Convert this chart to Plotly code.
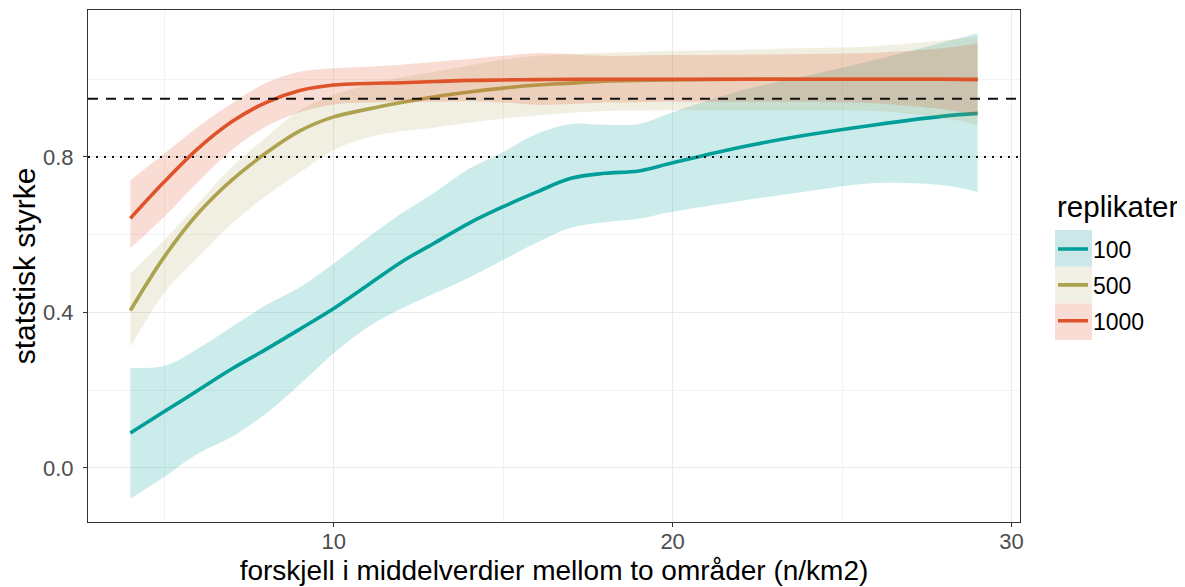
import plotly.graph_objects as go

# ---- data ----
x_vals = [4, 5, 6, 7, 8, 9, 10, 11, 12, 13, 14, 15, 16, 17, 18, 19, 20, 22, 24, 26, 28, 29]

rep_100_fit = [0.09, 0.145, 0.20, 0.255, 0.305, 0.357, 0.41, 0.47, 0.53, 0.58, 0.63, 0.672,
               0.71, 0.745, 0.758, 0.764, 0.785, 0.825, 0.857, 0.883, 0.905, 0.912]
rep_100_hi = [0.258, 0.262, 0.307, 0.363, 0.419, 0.465, 0.526, 0.592, 0.655, 0.71, 0.77, 0.813,
              0.86, 0.885, 0.883, 0.885, 0.915, 0.97, 1.01, 1.05, 1.095, 1.118]
rep_100_lo = [-0.079, -0.023, 0.037, 0.08, 0.14, 0.215, 0.295, 0.362, 0.41, 0.45, 0.49, 0.535,
              0.58, 0.618, 0.632, 0.641, 0.659, 0.687, 0.712, 0.733, 0.727, 0.71]

rep_500_fit = [0.405, 0.543, 0.655, 0.741, 0.81, 0.867, 0.903, 0.923, 0.94, 0.955, 0.967, 0.977,
               0.985, 0.99, 0.995, 0.997, 0.998, 1.0, 1.0, 1.0, 1.0, 1.0]
rep_500_hi = [0.50, 0.586, 0.68, 0.775, 0.85, 0.92, 0.96, 0.985, 1.005, 1.02, 1.035, 1.05,
              1.06, 1.065, 1.068, 1.07, 1.073, 1.076, 1.08, 1.085, 1.10, 1.109]
rep_500_lo = [0.311, 0.45, 0.543, 0.629, 0.70, 0.76, 0.818, 0.85, 0.866, 0.876, 0.888, 0.898,
              0.907, 0.914, 0.918, 0.919, 0.92, 0.92, 0.92, 0.918, 0.90, 0.882]

rep_1000_fit = [0.642, 0.736, 0.822, 0.891, 0.94, 0.971, 0.985, 0.989, 0.991, 0.994, 0.997, 0.998,
                0.999, 1.0, 1.0, 1.0, 1.0, 1.0, 1.0, 1.0, 1.0, 0.999]
rep_1000_hi = [0.74, 0.809, 0.878, 0.938, 0.99, 1.019, 1.028, 1.032, 1.037, 1.045, 1.052, 1.06,
               1.067, 1.064, 1.06, 1.061, 1.062, 1.063, 1.065, 1.068, 1.08, 1.092]
rep_1000_lo = [0.565, 0.646, 0.736, 0.818, 0.878, 0.915, 0.935, 0.94, 0.942, 0.942, 0.943, 0.94,
               0.934, 0.936, 0.94, 0.941, 0.942, 0.942, 0.942, 0.938, 0.922, 0.908]

groups = ["100", "500", "1000"]
legend_title = "replikater"
line_colors = ["#009E99", "#ADA24F", "#DF532A"]
fill_colors = ["rgba(0,158,153,0.2)", "rgba(173,162,79,0.17)", "rgba(223,83,42,0.2)"]
key_colors = ["#CCE7E7", "#F2F0E4", "#F9DCD3"]

power_target = 0.95
power_min = 0.8

fits = [rep_100_fit, rep_500_fit, rep_1000_fit]
his = [rep_100_hi, rep_500_hi, rep_1000_hi]
los = [rep_100_lo, rep_500_lo, rep_1000_lo]

FONT = "Liberation Sans, Arial, Helvetica, sans-serif"

# page body has an 8px margin: figure drawn from (8, 8)
W, H = 1177, 579
OFF = 8
ml, mr, mt, mb = 80, 165, 2, 65
pw, ph = W - ml - mr, H - mt - mb

fig = go.Figure()
for g, lc, fc, fit, hi, lo in zip(groups, line_colors, fill_colors, fits, his, los):
    fig.add_trace(go.Scatter(x=x_vals, y=lo, mode="lines", line=dict(width=0, shape="spline"),
                             showlegend=False, hoverinfo="skip"))
    fig.add_trace(go.Scatter(x=x_vals, y=hi, mode="lines", line=dict(width=0, shape="spline"),
                             fill="tonexty", fillcolor=fc, showlegend=False, hoverinfo="skip"))
    fig.add_trace(go.Scatter(x=x_vals, y=fit, mode="lines", name=g, legendgroup=g,
                             line=dict(color=lc, width=3.6, shape="spline")))

fig.add_shape(type="line", xref="paper", x0=0, x1=1, yref="y", y0=power_target, y1=power_target,
              line=dict(color="#111111", width=2, dash="10px,8px"), layer="above")
fig.add_shape(type="line", xref="paper", x0=0, x1=1, yref="y", y0=power_min, y1=power_min,
              line=dict(color="#111111", width=2, dash="2px,6px"), layer="above")


def px_to_paper_x(px):
    return (px - OFF - ml) / pw


def py_to_paper_y(py):
    return 1 - (py - OFF - mt) / ph


# legend key background boxes
for i, kc in enumerate(key_colors):
    top = 230 + 36.7 * i
    fig.add_shape(type="rect", xref="paper", yref="paper",
                  x0=px_to_paper_x(1055), x1=px_to_paper_x(1092),
                  y0=py_to_paper_y(top + 36.7), y1=py_to_paper_y(top),
                  line=dict(width=0), fillcolor=kc, layer="below")

# legend title
fig.add_annotation(text=legend_title, xref="paper", yref="paper",
                   x=px_to_paper_x(1055), y=py_to_paper_y(206.5),
                   xanchor="left", yanchor="middle", showarrow=False,
                   font=dict(family=FONT, size=29.5, color="#000000"))

axis_common = dict(
    showline=True, mirror=True, linecolor="#333333", linewidth=1,
    ticks="outside", ticklen=4, tickcolor="#333333", tickwidth=1,
    tickfont=dict(family=FONT, size=22, color="#4D4D4D"),
    gridcolor="#EBEBEB", gridwidth=1.2, zeroline=False,
)

fig.update_xaxes(range=[2.75, 30.25], tickvals=[10, 20, 30], ticktext=["10", "20", "30"],
                 ticklabelstandoff=-4,
                 minor=dict(tickvals=[5, 15, 25], showgrid=True, gridcolor="#F2F2F2", gridwidth=0.8, ticks=""),
                 title=dict(text="forskjell i middelverdier mellom to områder (n/km2)",
                            font=dict(family=FONT, size=28, color="#000000"), standoff=6),
                 **axis_common)
fig.update_yaxes(range=[-0.139, 1.178], tickvals=[0.0, 0.4, 0.8], ticktext=["0.0", "0.4", "0.8"],
                 ticklabelstandoff=5,
                 minor=dict(tickvals=[0.2, 0.6, 1.0], showgrid=True, gridcolor="#F2F2F2", gridwidth=0.8, ticks=""),
                 title=dict(text="statstisk styrke", font=dict(family=FONT, size=30, color="#000000"), standoff=6),
                 **axis_common)

fig.update_layout(
    width=W, height=H,
    margin=dict(l=ml, r=mr, t=mt, b=mb, autoexpand=False),
    paper_bgcolor="white", plot_bgcolor="white",
    font=dict(family=FONT),
    legend=dict(
        font=dict(family=FONT, size=23, color="#000000"),
        xref="container", yref="container", x=(1053 - OFF) / W, y=1 - (227.5 - OFF) / H,
        xanchor="left", yanchor="top", tracegroupgap=3,
        bgcolor="rgba(0,0,0,0)", itemwidth=30,
    ),
)

fig.write_html("out.html")
